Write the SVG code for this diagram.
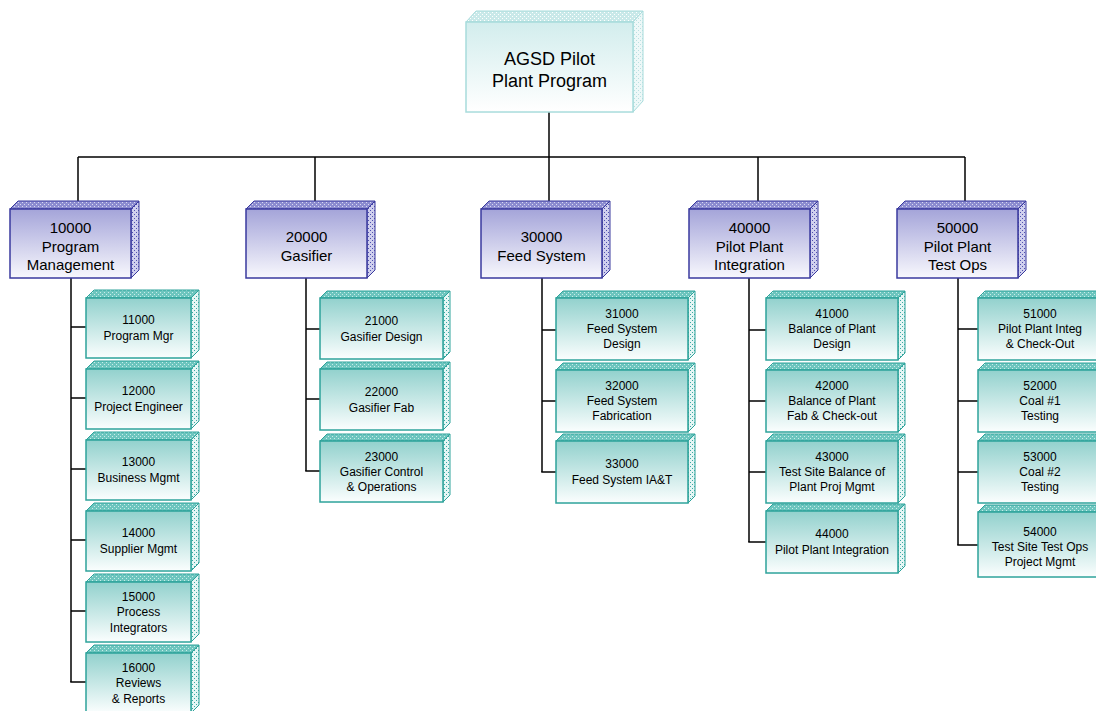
<svg xmlns="http://www.w3.org/2000/svg" width="1096" height="711" viewBox="0 0 1096 711">
<defs>
<linearGradient id="gTop" x1="0" y1="0" x2="0" y2="1"><stop offset="0" stop-color="#d2eded"/><stop offset="1" stop-color="#ffffff"/></linearGradient>
<linearGradient id="gL1" x1="0" y1="0" x2="0" y2="1"><stop offset="0" stop-color="#a4a4d9"/><stop offset="1" stop-color="#f8f8fd"/></linearGradient>
<linearGradient id="gL2" x1="0" y1="0" x2="0" y2="1"><stop offset="0" stop-color="#92d1cd"/><stop offset="1" stop-color="#fbfefe"/></linearGradient>
<pattern id="pTopBand" width="4" height="4" patternUnits="userSpaceOnUse"><rect width="4" height="4" fill="#c9e9e9"/><rect x="0" y="0" width="1" height="1" fill="#ffffff"/><rect x="2" y="2" width="1" height="1" fill="#ffffff"/></pattern>
<pattern id="pTopSide" width="4" height="4" patternUnits="userSpaceOnUse"><rect width="4" height="4" fill="#eef8f8"/><rect x="0" y="0" width="1" height="1" fill="#b9e0e0"/><rect x="2" y="2" width="1" height="1" fill="#b9e0e0"/></pattern>
<pattern id="pL1Band" width="4" height="4" patternUnits="userSpaceOnUse"><rect width="4" height="4" fill="#8c8cd0"/><rect x="0" y="0" width="1" height="1" fill="#d8d8f0"/><rect x="2" y="2" width="1" height="1" fill="#d8d8f0"/></pattern>
<pattern id="pL1Side" width="4" height="4" patternUnits="userSpaceOnUse"><rect width="4" height="4" fill="#d0d0ee"/><rect x="0" y="0" width="1" height="1" fill="#5050b0"/><rect x="2" y="2" width="1" height="1" fill="#5050b0"/></pattern>
<pattern id="pL2Band" width="4" height="4" patternUnits="userSpaceOnUse"><rect width="4" height="4" fill="#6cc5be"/><rect x="0" y="0" width="1" height="1" fill="#c8ecea"/><rect x="2" y="2" width="1" height="1" fill="#c8ecea"/></pattern>
<pattern id="pL2Side" width="4" height="4" patternUnits="userSpaceOnUse"><rect width="4" height="4" fill="#e6f6f5"/><rect x="0" y="0" width="1" height="1" fill="#3aa9a1"/><rect x="2" y="2" width="1" height="1" fill="#3aa9a1"/></pattern>
</defs>
<style>
text{font-family:"Liberation Sans",Arial,sans-serif;fill:#000;text-anchor:middle}
.t0{font-size:18px}.t1{font-size:15px}.t2{font-size:12px}
.top .f{fill:url(#gTop);stroke:#a8dcdc;stroke-width:1.5}
.top .b{fill:url(#pTopBand);stroke:#a8dcdc;stroke-width:1}
.top .s{fill:url(#pTopSide);stroke:#a8dcdc;stroke-width:1}
.l1 .f{fill:url(#gL1);stroke:#3a3a9e;stroke-width:1.5}
.l1 .b{fill:url(#pL1Band);stroke:#3a3a9e;stroke-width:1}
.l1 .s{fill:url(#pL1Side);stroke:#3a3a9e;stroke-width:1}
.l2 .f{fill:url(#gL2);stroke:#2ea39b;stroke-width:1.5}
.l2 .b{fill:url(#pL2Band);stroke:#2ea39b;stroke-width:1}
.l2 .s{fill:url(#pL2Side);stroke:#2ea39b;stroke-width:1}
.conn line{stroke:#000;stroke-width:1.5}
</style>
<rect width="1096" height="711" fill="#fff"/>

<g id="connectors" class="conn">
<line x1="549" y1="112" x2="549" y2="157"/>
<line x1="78" y1="157" x2="965" y2="157"/>
<line x1="78" y1="157" x2="78" y2="201"/>
<line x1="315" y1="157" x2="315" y2="201"/>
<line x1="549" y1="157" x2="549" y2="201"/>
<line x1="758" y1="157" x2="758" y2="201"/>
<line x1="965" y1="157" x2="965" y2="201"/>
<line x1="71" y1="278" x2="71" y2="682"/>
<line x1="71" y1="327" x2="86" y2="327"/><line x1="71" y1="398" x2="86" y2="398"/><line x1="71" y1="469" x2="86" y2="469"/><line x1="71" y1="540" x2="86" y2="540"/><line x1="71" y1="611" x2="86" y2="611"/><line x1="70.25" y1="682" x2="86" y2="682"/>
<line x1="306" y1="278" x2="306" y2="471"/>
<line x1="306" y1="329" x2="320" y2="329"/><line x1="306" y1="399" x2="320" y2="399"/><line x1="305.25" y1="471" x2="320" y2="471"/>
<line x1="542" y1="278" x2="542" y2="472"/>
<line x1="542" y1="330" x2="556" y2="330"/><line x1="542" y1="401" x2="556" y2="401"/><line x1="541.25" y1="472" x2="556" y2="472"/>
<line x1="749" y1="278" x2="749" y2="542"/>
<line x1="749" y1="330" x2="766" y2="330"/><line x1="749" y1="401" x2="766" y2="401"/><line x1="749" y1="472" x2="766" y2="472"/><line x1="748.25" y1="542" x2="766" y2="542"/>
<line x1="958" y1="278" x2="958" y2="545"/>
<line x1="958" y1="329" x2="978" y2="329"/><line x1="958" y1="401" x2="978" y2="401"/><line x1="958" y1="472" x2="978" y2="472"/><line x1="957.25" y1="545" x2="978" y2="545"/>
</g>

<g id="n0" class="top">
<polygon class="b" points="466,22 476,11 643,11 633,22"/>
<polygon class="s" points="633,22 643,11 643,101 633,112"/>
<rect class="f" x="466" y="22" width="167" height="90"/>
<text class="t0" x="549.5" y="65">AGSD Pilot</text>
<text class="t0" x="549.5" y="87">Plant Program</text>
</g>

<g id="n10000" class="l1">
<polygon class="b" points="10,209 18,201 139,201 131,209"/>
<polygon class="s" points="131,209 139,201 139,270 131,278"/>
<rect class="f" x="10" y="209" width="121" height="69"/>
<text class="t1" x="70.5" y="233">10000</text><text class="t1" x="70.5" y="252">Program</text><text class="t1" x="70.5" y="270">Management</text>
</g>
<g id="n20000" class="l1">
<polygon class="b" points="246,209 254,201 375,201 367,209"/>
<polygon class="s" points="367,209 375,201 375,270 367,278"/>
<rect class="f" x="246" y="209" width="121" height="69"/>
<text class="t1" x="306.5" y="242">20000</text><text class="t1" x="306.5" y="261">Gasifier</text>
</g>
<g id="n30000" class="l1">
<polygon class="b" points="481,209 489,201 610,201 602,209"/>
<polygon class="s" points="602,209 610,201 610,270 602,278"/>
<rect class="f" x="481" y="209" width="121" height="69"/>
<text class="t1" x="541.5" y="242">30000</text><text class="t1" x="541.5" y="261">Feed System</text>
</g>
<g id="n40000" class="l1">
<polygon class="b" points="689,209 697,201 818,201 810,209"/>
<polygon class="s" points="810,209 818,201 818,270 810,278"/>
<rect class="f" x="689" y="209" width="121" height="69"/>
<text class="t1" x="749.5" y="233">40000</text><text class="t1" x="749.5" y="252">Pilot Plant</text><text class="t1" x="749.5" y="270">Integration</text>
</g>
<g id="n50000" class="l1">
<polygon class="b" points="897,209 905,201 1026,201 1018,209"/>
<polygon class="s" points="1018,209 1026,201 1026,270 1018,278"/>
<rect class="f" x="897" y="209" width="121" height="69"/>
<text class="t1" x="957.5" y="233">50000</text><text class="t1" x="957.5" y="252">Pilot Plant</text><text class="t1" x="957.5" y="270">Test Ops</text>
</g>

<g id="n11000" class="l2">
<polygon class="b" points="86,298 94,290 199,290 191,298"/><polygon class="s" points="191,298 199,290 199,350 191,358"/>
<rect class="f" x="86" y="298" width="105" height="60"/>
<text class="t2" x="138.5" y="324">11000</text><text class="t2" x="138.5" y="340">Program Mgr</text>
</g>
<g id="n12000" class="l2">
<polygon class="b" points="86,369 94,361 199,361 191,369"/><polygon class="s" points="191,369 199,361 199,421 191,429"/>
<rect class="f" x="86" y="369" width="105" height="60"/>
<text class="t2" x="138.5" y="395">12000</text><text class="t2" x="138.5" y="411">Project Engineer</text>
</g>
<g id="n13000" class="l2">
<polygon class="b" points="86,440 94,432 199,432 191,440"/><polygon class="s" points="191,440 199,432 199,492 191,500"/>
<rect class="f" x="86" y="440" width="105" height="60"/>
<text class="t2" x="138.5" y="466">13000</text><text class="t2" x="138.5" y="482">Business Mgmt</text>
</g>
<g id="n14000" class="l2">
<polygon class="b" points="86,511 94,503 199,503 191,511"/><polygon class="s" points="191,511 199,503 199,563 191,571"/>
<rect class="f" x="86" y="511" width="105" height="60"/>
<text class="t2" x="138.5" y="537">14000</text><text class="t2" x="138.5" y="553">Supplier Mgmt</text>
</g>
<g id="n15000" class="l2">
<polygon class="b" points="86,582 94,574 199,574 191,582"/><polygon class="s" points="191,582 199,574 199,634 191,642"/>
<rect class="f" x="86" y="582" width="105" height="60"/>
<text class="t2" x="138.5" y="601">15000</text><text class="t2" x="138.5" y="616">Process</text><text class="t2" x="138.5" y="632">Integrators</text>
</g>
<g id="n16000" class="l2">
<polygon class="b" points="86,653 94,645 199,645 191,653"/><polygon class="s" points="191,653 199,645 199,705 191,713"/>
<rect class="f" x="86" y="653" width="105" height="60"/>
<text class="t2" x="138.5" y="672">16000</text><text class="t2" x="138.5" y="687">Reviews</text><text class="t2" x="138.5" y="703">&amp; Reports</text>
</g>

<g id="n21000" class="l2">
<polygon class="b" points="320,298 327,291 450,291 443,298"/><polygon class="s" points="443,298 450,291 450,352 443,359"/>
<rect class="f" x="320" y="298" width="123" height="61"/>
<text class="t2" x="381.5" y="325">21000</text><text class="t2" x="381.5" y="341">Gasifier Design</text>
</g>
<g id="n22000" class="l2">
<polygon class="b" points="320,369 327,362 450,362 443,369"/><polygon class="s" points="443,369 450,362 450,423 443,430"/>
<rect class="f" x="320" y="369" width="123" height="61"/>
<text class="t2" x="381.5" y="396">22000</text><text class="t2" x="381.5" y="412">Gasifier Fab</text>
</g>
<g id="n23000" class="l2">
<polygon class="b" points="320,441 327,434 450,434 443,441"/><polygon class="s" points="443,441 450,434 450,495 443,502"/>
<rect class="f" x="320" y="441" width="123" height="61"/>
<text class="t2" x="381.5" y="461">23000</text><text class="t2" x="381.5" y="476">Gasifier Control</text><text class="t2" x="381.5" y="491">&amp; Operations</text>
</g>

<g id="n31000" class="l2">
<polygon class="b" points="556,298 563,291 695,291 688,298"/><polygon class="s" points="688,298 695,291 695,353 688,360"/>
<rect class="f" x="556" y="298" width="132" height="62"/>
<text class="t2" x="622" y="318">31000</text><text class="t2" x="622" y="333">Feed System</text><text class="t2" x="622" y="348">Design</text>
</g>
<g id="n32000" class="l2">
<polygon class="b" points="556,370 563,363 695,363 688,370"/><polygon class="s" points="688,370 695,363 695,425 688,432"/>
<rect class="f" x="556" y="370" width="132" height="62"/>
<text class="t2" x="622" y="390">32000</text><text class="t2" x="622" y="405">Feed System</text><text class="t2" x="622" y="420">Fabrication</text>
</g>
<g id="n33000" class="l2">
<polygon class="b" points="556,441 563,434 695,434 688,441"/><polygon class="s" points="688,441 695,434 695,496 688,503"/>
<rect class="f" x="556" y="441" width="132" height="62"/>
<text class="t2" x="622" y="468">33000</text><text class="t2" x="622" y="484">Feed System IA&amp;T</text>
</g>

<g id="n41000" class="l2">
<polygon class="b" points="766,298 773,291 905,291 898,298"/><polygon class="s" points="898,298 905,291 905,353 898,360"/>
<rect class="f" x="766" y="298" width="132" height="62"/>
<text class="t2" x="832" y="318">41000</text><text class="t2" x="832" y="333">Balance of Plant</text><text class="t2" x="832" y="348">Design</text>
</g>
<g id="n42000" class="l2">
<polygon class="b" points="766,370 773,363 905,363 898,370"/><polygon class="s" points="898,370 905,363 905,425 898,432"/>
<rect class="f" x="766" y="370" width="132" height="62"/>
<text class="t2" x="832" y="390">42000</text><text class="t2" x="832" y="405">Balance of Plant</text><text class="t2" x="832" y="420">Fab &amp; Check-out</text>
</g>
<g id="n43000" class="l2">
<polygon class="b" points="766,441 773,434 905,434 898,441"/><polygon class="s" points="898,441 905,434 905,496 898,503"/>
<rect class="f" x="766" y="441" width="132" height="62"/>
<text class="t2" x="832" y="461">43000</text><text class="t2" x="832" y="476">Test Site Balance of</text><text class="t2" x="832" y="491">Plant Proj Mgmt</text>
</g>
<g id="n44000" class="l2">
<polygon class="b" points="766,511 773,504 905,504 898,511"/><polygon class="s" points="898,511 905,504 905,566 898,573"/>
<rect class="f" x="766" y="511" width="132" height="62"/>
<text class="t2" x="832" y="538">44000</text><text class="t2" x="832" y="554">Pilot Plant Integration</text>
</g>

<g id="n51000" class="l2">
<polygon class="b" points="978,298 985,291 1109,291 1102,298"/><polygon class="s" points="1102,298 1109,291 1109,353 1102,360"/>
<rect class="f" x="978" y="298" width="124" height="62"/>
<text class="t2" x="1040" y="318">51000</text><text class="t2" x="1040" y="333">Pilot Plant Integ</text><text class="t2" x="1040" y="348">&amp; Check-Out</text>
</g>
<g id="n52000" class="l2">
<polygon class="b" points="978,370 985,363 1109,363 1102,370"/><polygon class="s" points="1102,370 1109,363 1109,425 1102,432"/>
<rect class="f" x="978" y="370" width="124" height="62"/>
<text class="t2" x="1040" y="390">52000</text><text class="t2" x="1040" y="405">Coal #1</text><text class="t2" x="1040" y="420">Testing</text>
</g>
<g id="n53000" class="l2">
<polygon class="b" points="978,441 985,434 1109,434 1102,441"/><polygon class="s" points="1102,441 1109,434 1109,496 1102,503"/>
<rect class="f" x="978" y="441" width="124" height="62"/>
<text class="t2" x="1040" y="461">53000</text><text class="t2" x="1040" y="476">Coal #2</text><text class="t2" x="1040" y="491">Testing</text>
</g>
<g id="n54000" class="l2">
<polygon class="b" points="978,512 985,505 1109,505 1102,512"/><polygon class="s" points="1102,512 1109,505 1109,570 1102,577"/>
<rect class="f" x="978" y="512" width="124" height="65"/>
<text class="t2" x="1040" y="536">54000</text><text class="t2" x="1040" y="551">Test Site Test Ops</text><text class="t2" x="1040" y="566">Project Mgmt</text>
</g>
</svg>
